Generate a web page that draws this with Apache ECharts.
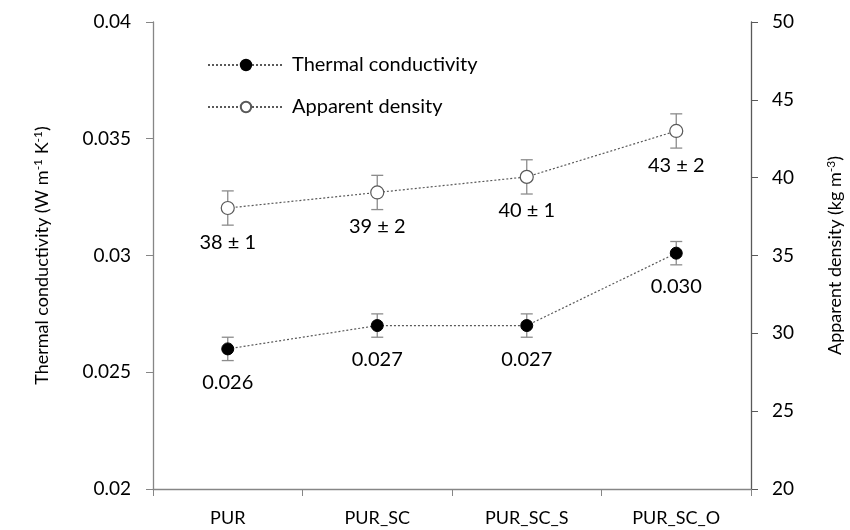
<!DOCTYPE html>
<html>
<head>
<meta charset="utf-8">
<script src="https://cdn.jsdelivr.net/npm/echarts@6/dist/echarts.min.js"></script>
<style>
html,body{margin:0;padding:0;background:#fff;}
#chart{width:850px;height:530px;}
</style>
</head>
<body>
<div id="chart"></div>
<script>
var categories = ['PUR', 'PUR_SC', 'PUR_SC_S', 'PUR_SC_O'];
var conductivity = [0.026, 0.027, 0.027, 0.0301];
var conductivityErr = [0.0005, 0.0005, 0.0005, 0.0005];
var conductivityLabels = ['0.026', '0.027', '0.027', '0.030'];
var density = [38.05, 39.05, 40.05, 43.0];
var densityErr = [1.1, 1.1, 1.1, 1.1];
var densityLabels = ['38 ± 1', '39 ± 2', '40 ± 1', '43 ± 2'];
var leftTicks = { min: 0.02, max: 0.04, interval: 0.005 };
var rightTicks = { min: 20, max: 50, interval: 5 };

var FONT = 'Lato';
var chart = echarts.init(document.getElementById('chart'), null, { renderer: 'canvas' });

function errData(vals, errs) {
  return vals.map(function (v, i) { return [i, v - errs[i], v + errs[i]]; });
}
function errRender(params, api) {
  var x = api.value(0);
  var lo = api.coord([x, api.value(1)]);
  var hi = api.coord([x, api.value(2)]);
  var w = 6;
  var st = { stroke: '#8c8c8c', lineWidth: 1.3 };
  return {
    type: 'group',
    children: [
      { type: 'line', shape: { x1: lo[0], y1: lo[1], x2: hi[0], y2: hi[1] }, style: st },
      { type: 'line', shape: { x1: lo[0] - w, y1: lo[1], x2: lo[0] + w, y2: lo[1] }, style: st },
      { type: 'line', shape: { x1: hi[0] - w, y1: hi[1], x2: hi[0] + w, y2: hi[1] }, style: st }
    ]
  };
}

var axisLabelStyle = { fontFamily: FONT, fontSize: 19, color: '#000' };

chart.setOption({
  animation: false,
  backgroundColor: '#fff',
  textStyle: { fontFamily: FONT },
  grid: { left: 153, right: 99, top: 22, bottom: 41, containLabel: false, outerBoundsMode: 'none' },
  legend: {
    data: ['Thermal conductivity', 'Apparent density'],
    orient: 'vertical',
    left: 202,
    top: 50,
    itemWidth: 76,
    itemHeight: 13,
    itemGap: 22,
    textStyle: { fontFamily: FONT, fontSize: 20, color: '#000', padding: [0, 0, 0, 3] }
  },
  xAxis: {
    type: 'category',
    data: categories,
    boundaryGap: true,
    axisLine: { lineStyle: { color: '#868686', width: 1.3 } },
    axisTick: { show: true, length: 7, lineStyle: { color: '#868686' } },
    axisLabel: { fontFamily: FONT, fontSize: 18, color: '#000', margin: 20 },
    splitLine: { show: false }
  },
  yAxis: [
    {
      type: 'value',
      position: 'left',
      min: leftTicks.min, max: leftTicks.max, interval: leftTicks.interval,
      axisLine: { show: true, lineStyle: { color: '#868686', width: 1.3 } },
      axisTick: { show: true, length: 7, lineStyle: { color: '#868686' } },
      axisLabel: Object.assign({ margin: 22 }, axisLabelStyle),
      splitLine: { show: false },
      name: '{a|Thermal conductivity (W m}{s|-1}{a| K}{s|-1}{a|)}',
      nameLocation: 'middle',
      nameRotate: 90,
      nameGap: 101,
      nameTextStyle: {
        rich: {
          a: { fontFamily: FONT, fontSize: 18, color: '#000' },
          s: { fontFamily: FONT, fontSize: 12, color: '#000', verticalAlign: 'top', padding: [0, 0, 8, 0] }
        }
      }
    },
    {
      type: 'value',
      position: 'right',
      min: rightTicks.min, max: rightTicks.max, interval: rightTicks.interval,
      axisLine: { show: true, lineStyle: { color: '#595959', width: 1.3 } },
      axisTick: { show: true, length: 7, lineStyle: { color: '#595959' } },
      axisLabel: Object.assign({ margin: 21 }, axisLabelStyle),
      splitLine: { show: false },
      name: '{a|Apparent density (kg m}{s|-3}{a|)}',
      nameLocation: 'middle',
      nameRotate: 90,
      nameGap: 74,
      nameTextStyle: {
        rich: {
          a: { fontFamily: FONT, fontSize: 18, color: '#000' },
          s: { fontFamily: FONT, fontSize: 12, color: '#000', verticalAlign: 'top', padding: [0, 0, 8, 0] }
        }
      }
    }
  ],
  series: [
    {
      type: 'custom',
      name: 'tcErr',
      yAxisIndex: 0,
      z: 1,
      renderItem: errRender,
      data: errData(conductivity, conductivityErr)
    },
    {
      type: 'custom',
      name: 'adErr',
      yAxisIndex: 1,
      z: 1,
      renderItem: errRender,
      data: errData(density, densityErr)
    },
    {
      type: 'line',
      name: 'Thermal conductivity',
      yAxisIndex: 0,
      z: 3,
      data: conductivity,
      symbol: 'circle',
      symbolSize: 12,
      itemStyle: { color: '#000', borderColor: '#000', borderWidth: 1 },
      lineStyle: { color: '#595959', width: 1.2, type: [2, 2] },
      label: {
        show: true, position: 'bottom', distance: 17,
        fontFamily: FONT, fontSize: 20, color: '#000',
        formatter: function (p) { return conductivityLabels[p.dataIndex]; }
      }
    },
    {
      type: 'line',
      name: 'Apparent density',
      yAxisIndex: 1,
      z: 3,
      data: density,
      symbol: 'circle',
      symbolSize: 13,
      itemStyle: { color: '#fff', borderColor: '#595959', borderWidth: 1.2 },
      lineStyle: { color: '#595959', width: 1.2, type: [2, 2] },
      label: {
        show: true, position: 'bottom', distance: 17,
        fontFamily: FONT, fontSize: 20, color: '#000',
        formatter: function (p) { return densityLabels[p.dataIndex]; }
      }
    }
  ]
});
</script>
</body>
</html>
